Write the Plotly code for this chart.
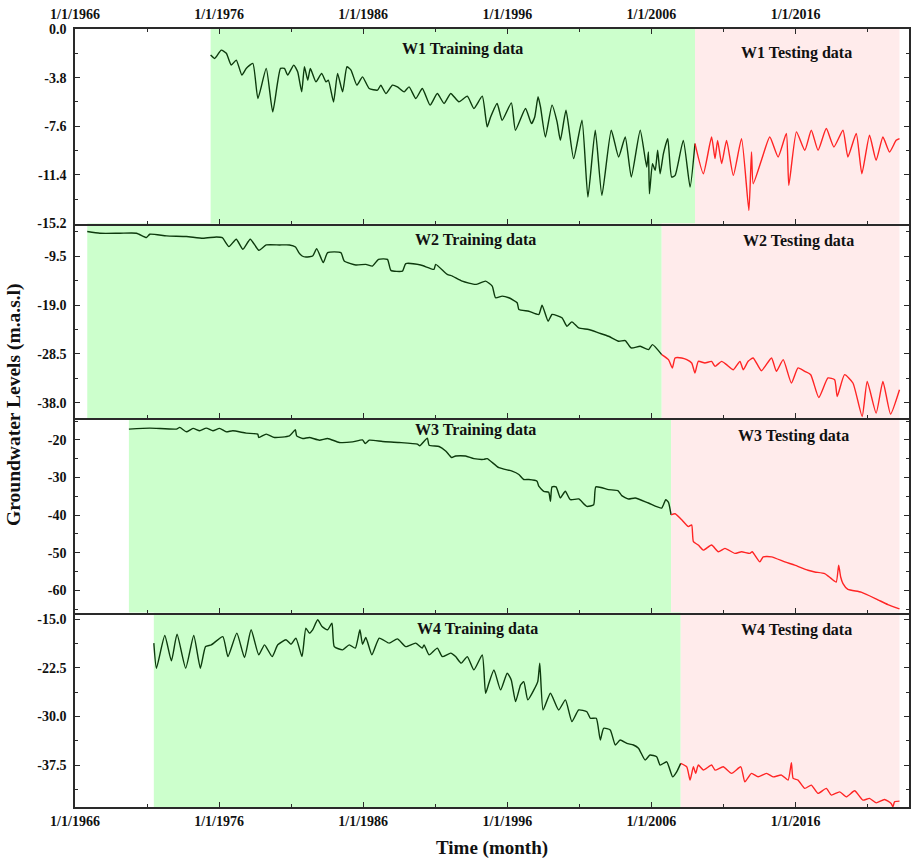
import plotly.graph_objects as go
from plotly.subplots import make_subplots

# ---------------- data (decimal year, groundwater level in m.a.s.l) ----------------
w1_train_t = [1975.41, 1975.69, 1976.15, 1976.50, 1976.84, 1977.19, 1977.58, 1977.88, 1978.34, 1978.69,
              1979.27, 1979.72, 1980.26, 1980.53, 1980.76, 1981.18, 1981.45, 1981.73, 1981.92, 1982.15,
              1982.33, 1982.72, 1983.11, 1983.42, 1983.58, 1983.94, 1984.22, 1984.57, 1984.87, 1985.15,
              1985.56, 1985.95, 1986.41, 1986.99, 1987.22, 1987.57, 1988.03, 1988.37, 1988.84, 1989.18,
              1989.65, 1990.10, 1990.64, 1991.14, 1991.61, 1992.07, 1992.64, 1993.22, 1993.68, 1994.26,
              1994.60, 1994.84, 1995.29, 1995.64, 1996.28, 1996.56, 1997.26, 1997.67, 1997.90, 1998.13,
              1998.30, 1998.64, 1999.10, 1999.45, 1999.68, 2000.07, 2000.60, 2001.18, 2001.59, 2002.10,
              2002.56, 2003.21, 2003.72, 2004.18, 2004.60, 2005.22, 2005.67, 2005.79, 2005.86, 2006.07,
              2006.26, 2006.43, 2006.60, 2006.83, 2007.13, 2007.40, 2007.64, 2008.21, 2008.68, 2009.02]
w1_train_v = [-2.04, -2.30, -1.65, -1.90, -2.82, -2.43, -3.60, -3.08, -2.69, -5.43,
              -3.08, -6.48, -3.08, -3.08, -3.60, -2.82, -3.35, -4.91, -2.95, -4.00,
              -3.08, -4.13, -3.47, -4.13, -4.00, -5.70, -3.47, -4.91, -2.95, -3.21,
              -4.39, -3.74, -4.65, -4.78, -4.39, -5.04, -4.39, -4.52, -4.91, -4.52,
              -5.43, -4.65, -5.95, -5.04, -5.82, -5.04, -5.69, -5.25, -6.21, -5.25,
              -7.65, -6.87, -5.82, -7.13, -5.77, -7.91, -6.21, -7.39, -6.87, -5.30,
              -6.09, -8.44, -5.95, -7.26, -8.70, -6.35, -10.13, -7.13, -13.14, -7.91,
              -13.00, -7.91, -10.00, -8.44, -11.57, -7.91, -10.79, -9.61, -12.87, -10.52,
              -11.05, -9.48, -11.31, -9.74, -8.57, -11.57, -11.44, -8.70, -12.35, -8.96]
w1_test_t = [2009.60, 2010.17, 2010.41, 2010.59, 2010.87, 2011.21, 2011.68, 2012.25, 2012.76, 2012.94,
             2013.06, 2013.63, 2014.21, 2014.79, 2015.36, 2015.53, 2016.06, 2016.64, 2017.09, 2017.56,
             2018.13, 2018.66, 2019.29, 2019.63, 2020.21, 2020.60, 2021.13, 2021.59, 2022.06, 2022.52,
             2022.98, 2023.21]
w1_test_v = [-11.31, -8.44, -10.13, -8.70, -10.52, -8.70, -11.44, -8.57, -14.18, -9.61,
             -12.09, -10.26, -8.44, -10.00, -8.17, -12.22, -8.04, -9.48, -7.91, -9.48,
             -7.78, -9.22, -7.91, -10.00, -8.17, -11.31, -8.30, -10.26, -8.44, -9.61,
             -8.70, -8.57]

w2_train_t = [1966.85, 1967.73, 1969.11, 1970.27, 1970.96, 1971.19, 1972.35, 1973.73, 1974.88, 1975.81,
              1976.22, 1976.68, 1977.19, 1977.65, 1978.16, 1978.76, 1979.27, 1980.19, 1980.88, 1981.30,
              1981.53, 1981.76, 1982.03, 1982.49, 1982.77, 1983.23, 1983.53, 1984.45, 1984.68, 1985.49,
              1986.18, 1986.64, 1987.06, 1987.68, 1987.92, 1988.72, 1988.95, 1989.99, 1990.91, 1991.03,
              1991.83, 1992.18, 1992.87, 1993.80, 1994.49, 1994.95, 1995.18, 1995.64, 1996.10, 1996.68,
              1996.80, 1997.49, 1998.18, 1998.41, 1998.83, 1999.10, 1999.79, 2000.14, 2000.48, 2000.95,
              2001.64, 2002.33, 2003.02, 2003.72, 2004.18, 2004.59, 2005.22, 2005.79, 2006.07, 2006.71]
w2_train_v = [-4.66, -5.00, -5.00, -5.00, -5.84, -5.19, -5.52, -5.64, -5.97, -5.72,
              -5.84, -7.60, -6.17, -8.12, -6.17, -8.32, -7.28, -7.28, -7.28, -7.67,
              -8.77, -9.43, -9.63, -9.43, -7.99, -10.72, -8.77, -8.77, -10.41, -11.19,
              -11.06, -11.39, -10.08, -10.08, -12.23, -12.37, -10.92, -11.19, -12.03, -11.06,
              -13.01, -13.34, -14.32, -14.97, -14.32, -15.30, -17.57, -17.25, -17.57, -18.54,
              -19.85, -20.19, -20.83, -19.01, -22.14, -20.83, -21.48, -23.12, -22.26, -23.43,
              -23.76, -24.41, -25.07, -26.05, -25.92, -27.34, -27.03, -27.67, -26.70, -28.65]
w2_test_t = [2007.18, 2007.45, 2007.64, 2008.10, 2008.45, 2008.79, 2009.02, 2009.25, 2009.71, 2010.17,
             2010.41, 2010.87, 2011.21, 2011.68, 2012.14, 2012.37, 2012.71, 2013.06, 2013.63, 2014.33,
             2014.67, 2015.14, 2015.71, 2016.17, 2016.64, 2017.05, 2017.61, 2018.25, 2018.71, 2018.89,
             2019.40, 2019.98, 2020.62, 2020.97, 2021.59, 2022.06, 2022.59, 2023.21]
w2_test_v = [-29.63, -31.25, -29.30, -29.30, -29.63, -30.28, -32.23, -29.96, -30.28, -29.96,
             -30.94, -29.96, -30.61, -31.59, -29.96, -31.59, -29.96, -29.30, -31.78, -29.30,
             -31.92, -29.63, -34.18, -31.25, -31.92, -32.56, -37.00, -33.20, -33.54, -36.80,
             -32.56, -34.18, -40.70, -33.87, -40.05, -33.87, -40.24, -35.50]

w3_train_t = [1969.74, 1971.19, 1973.04, 1973.27, 1973.73, 1974.19, 1974.65, 1975.11, 1975.57, 1976.03,
              1976.50, 1976.95, 1977.88, 1978.68, 1978.75, 1979.27, 1979.84, 1980.88, 1981.29, 1981.38,
              1981.80, 1982.26, 1982.96, 1983.53, 1984.34, 1985.26, 1985.95, 1986.14, 1986.42, 1987.34,
              1988.49, 1989.76, 1989.92, 1990.45, 1990.57, 1991.26, 1991.72, 1992.14, 1992.41, 1993.10,
              1993.68, 1994.37, 1994.60, 1995.41, 1996.33, 1996.80, 1997.14, 1997.49, 1998.06, 1998.18,
              1998.53, 1998.87, 1998.99, 1999.10, 1999.38, 1999.68, 2000.02, 2000.37, 2000.95, 2001.52,
              2001.99, 2002.14, 2003.02, 2003.67, 2003.94, 2004.41, 2004.87, 2005.79, 2006.71, 2006.99,
              2007.18, 2007.36]
w3_train_v = [-17.15, -16.88, -17.15, -16.70, -17.87, -16.96, -17.60, -16.88, -17.60, -16.96,
              -17.87, -17.60, -18.22, -18.49, -19.37, -18.49, -19.37, -18.94, -17.33, -18.94,
              -19.64, -19.37, -20.10, -19.64, -20.71, -20.55, -20.02, -20.98, -20.10, -20.45,
              -20.71, -21.17, -21.62, -19.56, -21.44, -21.78, -22.96, -24.73, -24.30, -24.30,
              -25.00, -25.19, -25.00, -27.41, -28.32, -29.21, -30.55, -30.55, -31.00, -32.34,
              -33.68, -33.95, -36.36, -32.51, -32.51, -35.45, -33.68, -35.91, -35.72, -37.70,
              -37.25, -32.51, -33.23, -33.50, -34.84, -35.72, -35.45, -36.79, -38.14, -35.91,
              -36.63, -39.93]
w3_test_t = [2007.64, 2008.10, 2008.56, 2008.79, 2008.91, 2009.25, 2009.60, 2010.17, 2010.64, 2011.10,
             2011.79, 2012.25, 2012.83, 2012.99, 2013.52, 2013.75, 2014.33, 2015.25, 2015.94, 2016.86,
             2017.33, 2018.02, 2018.48, 2018.82, 2018.99, 2019.13, 2019.29, 2019.63, 2020.55, 2021.71,
             2022.40, 2023.21]
w3_test_v = [-39.66, -41.27, -43.06, -42.61, -47.08, -47.97, -49.31, -47.97, -49.76, -48.85,
             -50.19, -49.76, -50.19, -49.76, -52.44, -51.10, -51.10, -52.44, -53.33, -54.67,
             -55.12, -55.56, -56.90, -57.80, -53.33, -56.46, -58.23, -59.76, -60.48, -62.52,
             -63.78, -64.93]

w4_train_t = [1971.47, 1971.65, 1972.23, 1972.69, 1973.08, 1973.68, 1974.24, 1974.70, 1975.06, 1975.46,
              1976.26, 1976.61, 1977.23, 1977.76, 1978.22, 1978.75, 1979.15, 1979.68, 1980.07, 1980.64,
              1980.99, 1981.33, 1981.75, 1982.02, 1982.26, 1982.49, 1982.84, 1983.14, 1983.53, 1983.83,
              1983.99, 1984.57, 1985.03, 1985.45, 1985.77, 1985.95, 1986.18, 1986.60, 1987.11, 1987.80,
              1988.37, 1988.95, 1989.64, 1990.10, 1990.22, 1990.57, 1991.14, 1991.49, 1992.07, 1992.41,
              1992.80, 1993.22, 1993.68, 1994.26, 1994.49, 1994.72, 1995.07, 1995.53, 1995.99, 1996.27,
              1996.57, 1996.92, 1997.14, 1997.42, 1997.84, 1998.11, 1998.25, 1998.48, 1998.99, 1999.56,
              2000.03, 2000.48, 2000.95, 2001.52, 2001.76, 2002.17, 2002.45, 2002.68, 2003.14, 2003.49,
              2003.83, 2004.29, 2004.75, 2005.10, 2005.56, 2005.90, 2006.36, 2006.60, 2007.06, 2007.47,
              2007.75, 2008.03]
w4_train_v = [-18.71, -22.56, -17.54, -21.44, -17.33, -22.56, -17.54, -22.56, -19.24, -18.97,
              -17.70, -20.78, -17.17, -20.93, -16.66, -20.51, -18.97, -20.78, -18.97, -18.20,
              -18.87, -17.94, -20.78, -16.40, -17.17, -16.66, -15.12, -16.16, -16.66, -15.63,
              -19.24, -19.74, -18.97, -19.48, -16.66, -18.87, -17.85, -20.51, -17.94, -18.71,
              -18.05, -19.24, -18.71, -19.48, -18.97, -20.51, -19.48, -20.78, -20.25, -20.78,
              -21.79, -20.78, -22.82, -20.51, -26.41, -24.87, -22.82, -25.90, -23.33, -24.36,
              -27.70, -25.13, -24.63, -27.44, -25.90, -24.63, -21.79, -28.98, -26.41, -28.98,
              -27.44, -30.78, -28.98, -29.25, -30.26, -30.26, -33.60, -31.80, -32.06, -34.37,
              -33.60, -34.11, -34.37, -34.88, -36.68, -35.91, -36.18, -37.45, -36.95, -39.26,
              -38.49, -37.19]
w4_test_t = [2008.45, 2008.68, 2008.91, 2009.07, 2009.25, 2009.60, 2010.17, 2010.41, 2010.98, 2011.56,
             2012.20, 2012.48, 2012.94, 2013.40, 2013.98, 2014.44, 2015.02, 2015.48, 2015.71, 2015.83,
             2016.17, 2016.64, 2017.09, 2017.56, 2018.13, 2018.48, 2019.06, 2019.52, 2020.10, 2020.67,
             2021.13, 2021.59, 2022.17, 2022.63, 2022.75, 2022.87, 2023.21]
w4_test_v = [-37.72, -39.76, -37.72, -38.73, -37.45, -38.22, -37.45, -38.22, -37.72, -38.73,
             -37.72, -40.03, -38.73, -39.26, -38.73, -39.26, -38.99, -39.76, -37.10, -39.50,
             -39.76, -41.04, -40.53, -41.81, -41.04, -42.07, -41.57, -42.34, -41.41, -42.84,
             -42.58, -43.26, -42.74, -43.35, -43.87, -43.10, -43.00]

well_names = ["W1", "W2", "W3", "W4"]

# axis ticks
x_tickvals = [1966, 1976, 1986, 1996, 2006, 2016]
x_ticktext = ["1/1/1966", "1/1/1976", "1/1/1986", "1/1/1996", "1/1/2006", "1/1/2016"]
x_minorvals = [1971, 1981, 1991, 2001, 2011, 2021]

y_ranges = [[-15.2, 0.0], [-41.0, -3.1], [-65.9, -14.2], [-43.9, -14.0]]
y_tickvals = [
    [0.0, -3.8, -7.6, -11.4, -15.2],
    [-9.5, -19.0, -28.5, -38.0],
    [-20, -30, -40, -50, -60],
    [-15.0, -22.5, -30.0, -37.5],
]
y_ticktext = [
    ["0.0", "-3.8", "-7.6", "-11.4", "-15.2"],
    ["-9.5", "-19.0", "-28.5", "-38.0"],
    ["-20", "-30", "-40", "-50", "-60"],
    ["-15.0", "-22.5", "-30.0", "-37.5"],
]
y_minorvals = [
    [-1.9, -5.7, -9.5, -13.3],
    [-4.75, -14.25, -23.75, -33.25],
    [-15, -25, -35, -45, -55, -65],
    [-18.75, -26.25, -33.75, -41.25],
]

series = [
    (w1_train_t, w1_train_v, w1_test_t, w1_test_v),
    (w2_train_t, w2_train_v, w2_test_t, w2_test_v),
    (w3_train_t, w3_train_v, w3_test_t, w3_test_v),
    (w4_train_t, w4_train_v, w4_test_t, w4_test_v),
]

# label placement in paper coordinates (training label, testing label)
label_pos = [
    ((0.465, 0.974), (0.865, 0.969)),
    ((0.480, 0.729), (0.868, 0.727)),
    ((0.480, 0.484), (0.861, 0.477)),
    ((0.483, 0.229), (0.865, 0.227)),
]

SERIF = "Liberation Serif"
AX = "#2a2a2a"
TRAIN_COLOR = "#0d3a0d"
TEST_COLOR = "#ff2424"
TRAIN_FILL = "#ccffcc"
TEST_FILL = "#ffebeb"
LINE_SHAPE = dict(shape="spline", smoothing=0.5)

fig = make_subplots(rows=4, cols=1, shared_xaxes=True, vertical_spacing=0)

for i, (tr_t, tr_v, te_t, te_v) in enumerate(series):
    row = i + 1
    fig.add_trace(go.Scatter(x=tr_t, y=tr_v, mode="lines",
                             line=dict(color=TRAIN_COLOR, width=1.4, **LINE_SHAPE),
                             name=f"{well_names[i]} training", showlegend=False),
                  row=row, col=1)
    fig.add_trace(go.Scatter(x=[tr_t[-1]] + te_t, y=[tr_v[-1]] + te_v, mode="lines",
                             line=dict(color=TEST_COLOR, width=1.4, **LINE_SHAPE),
                             name=f"{well_names[i]} testing", showlegend=False),
                  row=row, col=1)
    # training / testing periods
    fig.add_vrect(x0=tr_t[0], x1=tr_t[-1], fillcolor=TRAIN_FILL, opacity=1,
                  line_width=0, layer="below", row=row, col=1, exclude_empty_subplots=False)
    fig.add_vrect(x0=tr_t[-1], x1=te_t[-1], fillcolor=TEST_FILL, opacity=1,
                  line_width=0, layer="below", row=row, col=1, exclude_empty_subplots=False)

    (tx, ty), (sx, sy) = label_pos[i]
    for txt, px, py in ((f"{well_names[i]} Training data", tx, ty),
                        (f"{well_names[i]} Testing data", sx, sy)):
        fig.add_annotation(text=txt, x=px, y=py, xref="paper", yref="paper",
                           xanchor="center", yanchor="middle", showarrow=False,
                           font=dict(family=SERIF, size=16, color="#111", weight="bold"))

    fig.update_yaxes(
        row=row, col=1,
        range=y_ranges[i], tickmode="array", tickvals=y_tickvals[i], ticktext=y_ticktext[i],
        ticks="inside", ticklen=5, tickwidth=1.3, tickcolor=AX,
        minor=dict(tickmode="array", tickvals=y_minorvals[i], ticks="inside", ticklen=3,
                   tickwidth=1.2, tickcolor=AX, showgrid=False),
        showline=True, linecolor=AX, linewidth=1.6, mirror="ticks",
        showgrid=False, zeroline=False, ticklabelstandoff=4,
        tickfont=dict(family=SERIF, size=14, color="#111", weight="bold"),
    )
    fig.update_xaxes(
        row=row, col=1,
        range=[1966, 2023.87], tickmode="array", tickvals=x_tickvals, ticktext=x_ticktext,
        ticks="inside", ticklen=5, tickwidth=1.3, tickcolor=AX,
        minor=dict(tickmode="array", tickvals=x_minorvals, ticks="inside", ticklen=3,
                   tickwidth=1.2, tickcolor=AX, showgrid=False),
        showline=True, linecolor=AX, linewidth=1.8,
        showgrid=False, zeroline=False,
        tickfont=dict(family=SERIF, size=14, color="#111", weight="bold"),
    )

# top panel carries the date labels on top, bottom panel at the bottom
fig.update_xaxes(row=1, col=1, side="top", showticklabels=True, mirror="ticks", ticklabelstandoff=3)
fig.update_xaxes(row=4, col=1, showticklabels=True, ticklabelstandoff=0)

fig.add_annotation(text="Groundwater Levels (m.a.s.l)", x=-0.073, y=0.517, xref="paper", yref="paper",
                   xanchor="center", yanchor="middle", textangle=-90, showarrow=False,
                   font=dict(family=SERIF, size=19.5, color="#111", weight="bold"))
fig.add_annotation(text="Time (month)", x=0.5, y=-0.053, xref="paper", yref="paper",
                   xanchor="center", yanchor="middle", showarrow=False,
                   font=dict(family=SERIF, size=19, color="#111", weight="bold"))

fig.update_layout(
    width=911, height=863,
    margin=dict(l=75, r=0, t=29, b=56),
    paper_bgcolor="white", plot_bgcolor="white",
    showlegend=False,
)

fig.write_html("out.html")
